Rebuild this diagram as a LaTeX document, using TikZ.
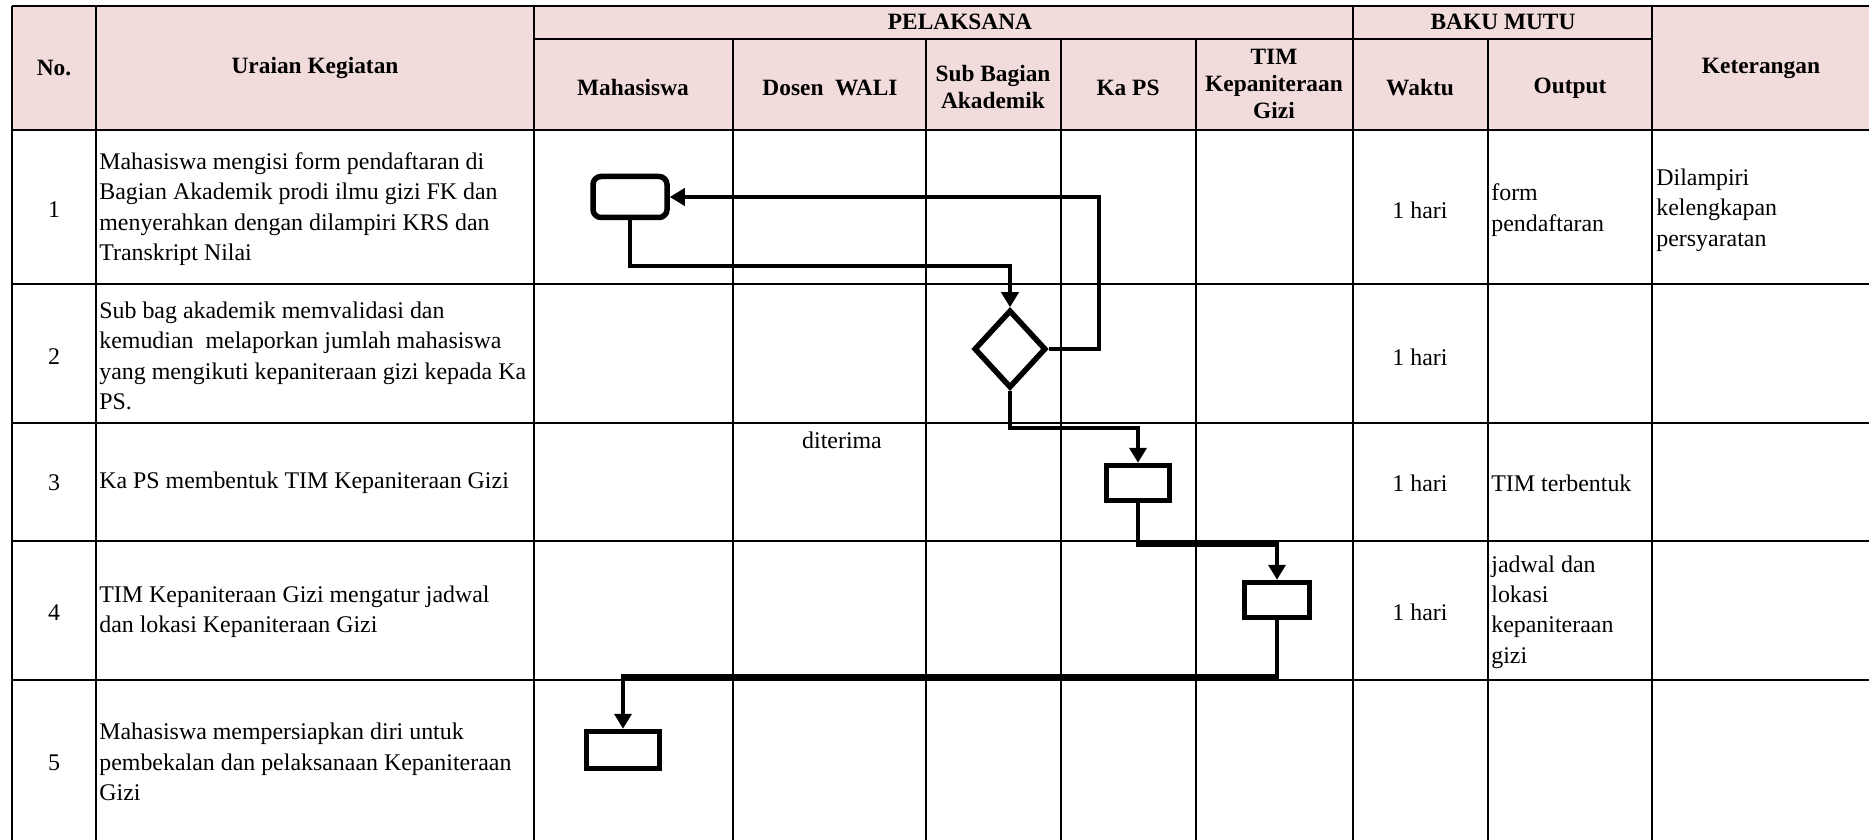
\documentclass[tikz,border=0pt]{standalone}
\usepackage{fontspec}
\setmainfont{Liberation Serif}
\usetikzlibrary{shapes.geometric}
\usetikzlibrary{arrows.meta}
\usepackage{xcolor}
\definecolor{kepala}{RGB}{242,220,219}

\begin{document}
\begin{tikzpicture}[x=0.2mm,y=-0.2mm,
  garis/.style={line width=1.5pt},
  teks/.style={font=\fontsize{13.6}{17.3}\selectfont, inner sep=0pt, align=left},
  judul/.style={font=\fontsize{13.3}{15.2}\selectfont\bfseries, inner sep=0pt, align=center},
  kotak/.style={draw, line width=1.1mm, inner sep=0pt, minimum height=7mm},
  alur/.style={line width=0.9mm, -{Triangle[length=3mm,width=3.4mm]}}]
\useasboundingbox (0,0) rectangle (1869,840);
\fill [kepala] (12,6) rectangle (1869,130);
% garis tabel
\draw [garis] (12,6) -- (1869,6);
\draw [garis] (534,39) -- (1652,39);
\draw [garis] (12,130) -- (1869,130);
\draw [garis] (12,284) -- (1869,284);
\draw [garis] (12,423) -- (1869,423);
\draw [garis] (12,541) -- (1869,541);
\draw [garis] (12,680) -- (1869,680);
\draw [garis] (12,6) -- (12,840);
\draw [garis] (96,6) -- (96,840);
\draw [garis] (534,6) -- (534,840);
\draw [garis] (733,39) -- (733,840);
\draw [garis] (926,39) -- (926,840);
\draw [garis] (1061,39) -- (1061,840);
\draw [garis] (1196,39) -- (1196,840);
\draw [garis] (1353,6) -- (1353,840);
\draw [garis] (1488,39) -- (1488,840);
\draw [garis] (1652,6) -- (1652,840);
% judul kolom
\node [judul] (hno) at (54,68) {No.};
\node [judul] (hur) at (315,68) {Uraian Kegiatan};
\node [judul] (hpel) at (960,22) {PELAKSANA};
\node [judul] (hbm) at (1503,22) {BAKU MUTU};
\node [judul] (hmhs) at (633,88) {Mahasiswa};
\node [judul] (hdw) at (830,88) {Dosen\ \ WALI};
\node [judul] (hsba) at (993,87) {Sub Bagian\\Akademik};
\node [judul] (hkps) at (1128,88) {Ka PS};
\node [judul] (htim) at (1274,84) {TIM\\Kepaniteraan\\Gizi};
\node [judul] (hwkt) at (1420,88) {Waktu};
\node [judul] (hout) at (1570,88) {Output};
\node [judul] (hket) at (1761,68) {Keterangan};
% nomor
\node [teks] (n1) at (54,210) {1};
\node [teks] (n2) at (54,357) {2};
\node [teks] (n3) at (54,483) {3};
\node [teks] (n4) at (54,613) {4};
\node [teks] (n5) at (54,763) {5};
% uraian kegiatan
\node [teks, anchor=west] (u1) at (99,209) {Mahasiswa mengisi form pendaftaran di\\Bagian Akademik prodi ilmu gizi FK dan\\menyerahkan dengan dilampiri KRS dan\\Transkript Nilai};
\node [teks, anchor=west] (u2) at (99,356) {Sub bag akademik memvalidasi dan\\kemudian\ \ melaporkan jumlah mahasiswa\\yang mengikuti kepaniteraan gizi kepada Ka\\PS.};
\node [teks, anchor=west] (u3) at (99,483) {Ka PS membentuk TIM Kepaniteraan Gizi};
\node [teks, anchor=west] (u4) at (99,612) {TIM Kepaniteraan Gizi mengatur jadwal\\dan lokasi Kepaniteraan Gizi};
\node [teks, anchor=west] (u5) at (99,762) {Mahasiswa mempersiapkan diri untuk\\pembekalan dan pelaksanaan Kepaniteraan\\Gizi};
% baku mutu dan keterangan
\node [teks] (w1) at (1420,210) {1 hari};
\node [teks] (w2) at (1420,357) {1 hari};
\node [teks] (w3) at (1420,483) {1 hari};
\node [teks] (w4) at (1420,612) {1 hari};
\node [teks, anchor=west] (o1) at (1491,210) {form\\pendaftaran};
\node [teks, anchor=west] (o3) at (1491,483) {TIM terbentuk};
\node [teks, anchor=west] (o4) at (1491,612) {jadwal dan\\lokasi\\kepaniteraan\\gizi};
\node [teks, anchor=west] (k1) at (1656,210) {Dilampiri\\kelengkapan\\persyaratan};
\node [teks] (dt) at (842,440) {diterima};
% bagan alur
\node [kotak, rounded corners=1.6mm, minimum width=14.8mm, minimum height=8.2mm] (s1) at (630,197) {};
\node [draw, diamond, line width=1.1mm, inner sep=0pt, minimum width=14.4mm, minimum height=15.6mm] (d2) at (1010,349) {};
\node [kotak, minimum width=12.6mm] (p3) at (1138,483) {};
\node [kotak, minimum width=13mm] (t4) at (1277,600) {};
\node [kotak, minimum width=14.6mm, minimum height=7.4mm] (m5) at (623,750) {};
\draw [alur] (s1.south) -- ++(0,46) -| (d2.north);
\draw [alur] (d2.east) -- ++(50,0) |- (s1.east);
\draw [alur] (d2.south) -- ++(0,37) -| (p3.north);
\draw [alur] (p3.south) -- ++(0,41) -| (t4.north);
\draw [alur] (t4.south) -- ++(0,56) -| (m5.north);
\end{tikzpicture}
\end{document}
